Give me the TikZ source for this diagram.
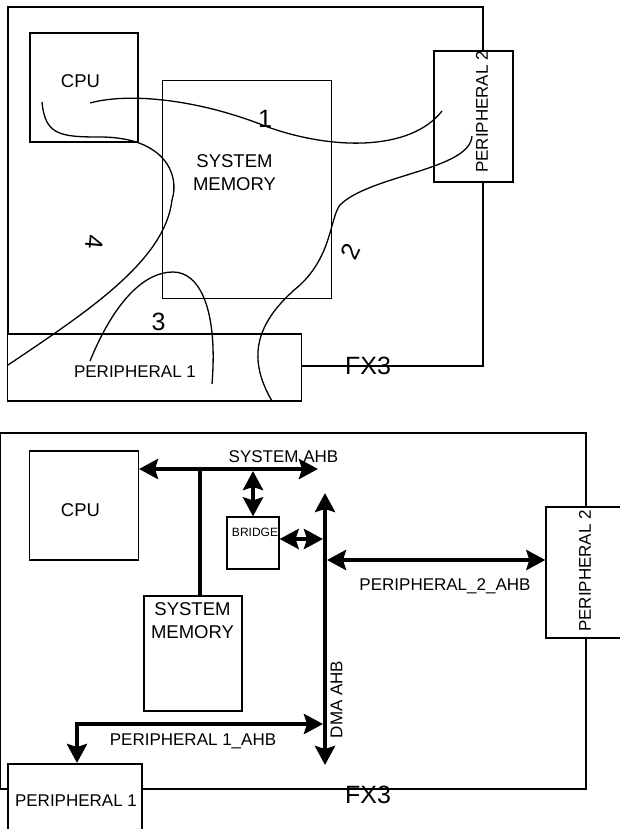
\documentclass[tikz,border=0pt]{standalone}
\usepackage{fontspec}
\setmainfont{Liberation Sans}
\usetikzlibrary{arrows.meta}

\begin{document}
\begin{tikzpicture}[
    x=1pt, y=-1pt,
    block/.style={draw, fill=white, line width=1.3pt, inner sep=0pt},
    frame/.style={line width=1.3pt},
    wire/.style={line width=1.3pt},
    bus/.style={line width=4pt, >={Stealth[length=19pt,width=20pt,inset=3pt]}},
    txt/.style={inner sep=0pt, font=\fontsize{17}{20}\selectfont},
    big/.style={inner sep=0pt, font=\fontsize{18.5}{23}\selectfont},
    num/.style={inner sep=0pt, font=\fontsize{25}{30}\selectfont}
]
\useasboundingbox (0,0) rectangle (619,829);

% Upper view: FX3 boundary
\draw[frame] (8,7) rectangle (483,366);
% Components
\node[block, minimum width=108pt, minimum height=109pt] (cpuA) at (84,87.5) {};
\node[block, minimum width=169pt, minimum height=218pt] (memA) at (247.3,189.8) {};
\node[block, minimum width=79pt, minimum height=131pt] (perTwoA) at (473.5,116.5) {};
\node[block, minimum width=294pt, minimum height=67pt] (perOneA) at (154.8,367.5) {};
\node[big] (cpuAtxt) at (80.5,81.5) {CPU};
\node[big, align=center] (memAtxt) at (234.5,172.5) {SYSTEM\\MEMORY};
\node[txt, rotate=90] (perTwoAtxt) at (482,112) {PERIPHERAL 2};
\node[txt] (perOneAtxt) at (135,372) {PERIPHERAL 1};
\node[num] (fxA) at (368,366) {FX3};
% Data paths
\coordinate (oneS) at (90,103);
\coordinate (oneE) at (442,111);
\coordinate (twoS) at (472,136);
\coordinate (twoE) at (272,401);
\coordinate (threeS) at (90,361);
\coordinate (threeE) at (212,384);
\coordinate (fourS) at (42,102);
\coordinate (fourE) at (8,365);
\draw[wire] (oneS) .. controls (130,92) and (200,100) .. (265,126)
    .. controls (330,150) and (410,152) .. (oneE);
\draw[wire] (twoS) .. controls (470,170) and (370,175) .. (340,205)
    .. controls (330,218) and (332,255) .. (300,285)
    .. controls (258,320) and (245,355) .. (twoE);
\draw[wire] (threeS) .. controls (115,300) and (145,272) .. (173,272)
    .. controls (200,272) and (218,310) .. (threeE);
\draw[wire] (fourS) .. controls (45,135) and (60,137) .. (100,137)
    .. controls (165,137) and (180,175) .. (172,200)
    .. controls (165,260) and (90,310) .. (fourE);
\node[num] (lblOne) at (265,119) {1};
\node[num, rotate=65] (lblTwo) at (351,252) {2};
\node[num] (lblThree) at (158.5,322) {3};
\node[num, rotate=-95] (lblFour) at (94,242) {4};

% Lower view: FX3 boundary
\draw[frame] (0.4,433) rectangle (586,789);
% Components
\node[block, minimum width=109pt, minimum height=109pt] (cpuB) at (84,505.5) {};
\node[block, minimum width=52pt, minimum height=52pt] (bridge) at (253,543) {};
\node[block, minimum width=98pt, minimum height=115pt] (memB) at (193,653.5) {};
\node[block, minimum width=80pt, minimum height=131pt] (perTwoB) at (586,572.5) {};
\node[block, minimum width=134pt, minimum height=76pt] (perOneB) at (75,802) {};
\node[big] (cpuBtxt) at (80.5,510) {CPU};
\node[inner sep=0pt, font=\fontsize{12}{14}\selectfont] (bridgeTxt) at (255,532) {BRIDGE};
\node[big, align=center] (memBtxt) at (192.5,620.5) {SYSTEM\\MEMORY};
\node[txt, rotate=90] (perTwoBtxt) at (585,571) {PERIPHERAL 2};
\node[txt] (perOneBtxt) at (76,801) {PERIPHERAL 1};
\node[num] (fxB) at (368,795) {FX3};
% Buses
\coordinate (sysL) at (139,469);
\coordinate (sysR) at (318,469);
\coordinate (memTap) at (200,469);
\coordinate (brTap) at (253,471);
\coordinate (dmaT) at (325,493);
\coordinate (dmaB) at (325,765);
\coordinate (brHit) at (323,539);
\coordinate (twoHit) at (327,560);
\coordinate (oneHit) at (323,724);
\coordinate (oneDrop) at (77,763);
\draw[bus, <->] (sysL) -- (sysR);
\draw[bus] (memTap) -- (memB.north -| memTap);
\draw[bus, <->] (brTap) -- (bridge.north);
\draw[bus, <->] (bridge.east |- brHit) -- (brHit);
\draw[bus, <->] (dmaB) -- (dmaT);
\draw[bus, <->] (twoHit) -- (perTwoB.west |- twoHit);
\draw[bus, <->] (oneDrop) |- (oneHit);
\node[txt] (sysTxt) at (283.5,456.5) {SYSTEM AHB};
\node[txt, anchor=base] (twoTxt) at (445,590) {PERIPHERAL\_2\_AHB};
\node[txt, anchor=base] (oneTxt) at (193,745) {PERIPHERAL 1\_AHB};
\node[txt, rotate=90] (dmaTxt) at (336.5,699.5) {DMA AHB};
\end{tikzpicture}
\end{document}
